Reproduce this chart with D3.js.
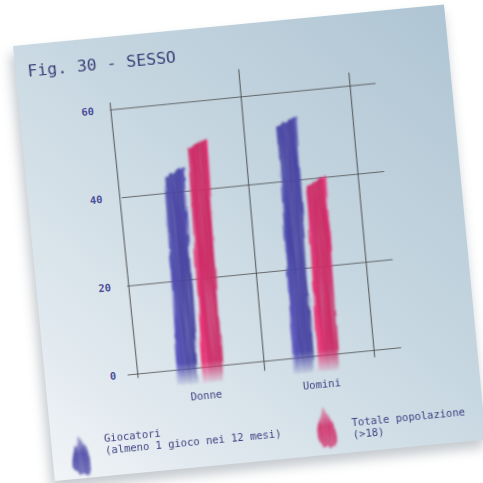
<!DOCTYPE html>
<html lang="it">
<head>
<meta charset="UTF-8">
<title>Fig. 30 - SESSO</title>
<script src="https://d3js.org/d3.v7.min.js"></script>
<style>
  body { margin: 0; background: #fff; }
  svg { display: block; }
  .mono { font-family: "DejaVu Sans Mono", "Liberation Mono", monospace; }
</style>
</head>
<body>
<script>
// data
const categories = ["Donne", "Uomini"];
const seriesKeys = ["giocatori", "popolazione"];
const giocatori = [45.5, 54.5];
const popolazione = [51.5, 40.5];
const yTicks = [0, 20, 40, 60];
const legendLines = [
  ["Giocatori", "(almeno 1 gioco nei 12 mesi)"],
  ["Totale popolazione", "(>18)"]
];
const title = "Fig. 30 - SESSO";

const W = 483, H = 483;
const paperW = 433, paperH = 437;
const colors = { giocatori: "#4a46a5", popolazione: "#d02b67" };
const textColor = "#3f4282";

const svg = d3.select("body").append("svg")
  .attr("width", W).attr("height", H);

const defs = svg.append("defs");

// paper gradient, darker at the top right corner
const pg = defs.append("linearGradient").attr("id", "paperGrad")
  .attr("x1", 1).attr("y1", 0).attr("x2", 0).attr("y2", 1);
pg.append("stop").attr("offset", 0).attr("stop-color", "#afc5d3");
pg.append("stop").attr("offset", 0.45).attr("stop-color", "#c7d7e1");
pg.append("stop").attr("offset", 0.8).attr("stop-color", "#dfe8ee");
pg.append("stop").attr("offset", 1).attr("stop-color", "#f1f4f7");

defs.append("filter").attr("id", "shadow")
  .attr("x", "-10%").attr("y", "-10%").attr("width", "120%").attr("height", "120%")
  .append("feGaussianBlur").attr("stdDeviation", 6);

// brush stroke look
const brush = defs.append("filter").attr("id", "brush")
  .attr("x", "-60%").attr("y", "-10%").attr("width", "220%").attr("height", "120%");
brush.append("feTurbulence").attr("type", "fractalNoise")
  .attr("baseFrequency", "0.3 0.02").attr("numOctaves", 3).attr("seed", 7).attr("result", "noise");
brush.append("feDisplacementMap").attr("in", "SourceGraphic").attr("in2", "noise")
  .attr("scale", 5).attr("xChannelSelector", "R").attr("yChannelSelector", "G").attr("result", "disp");
brush.append("feTurbulence").attr("type", "fractalNoise")
  .attr("baseFrequency", "0.6 0.012").attr("numOctaves", 2).attr("seed", 3).attr("result", "streak");
brush.append("feColorMatrix").attr("in", "streak").attr("type", "matrix")
  .attr("values", "0 0 0 0 0  0 0 0 0 0  0 0 0 0 0  0.7 0 0 0 0.6").attr("result", "streakA");
brush.append("feComposite").attr("in", "disp").attr("in2", "streakA").attr("operator", "in").attr("result", "tex");
brush.append("feGaussianBlur").attr("in", "tex").attr("stdDeviation", 1);

defs.append("filter").attr("id", "soft")
  .append("feGaussianBlur").attr("stdDeviation", 0.35);

// horizontal shading inside each bar
seriesKeys.forEach(k => {
  const c = d3.color(colors[k]);
  const g = defs.append("linearGradient").attr("id", "bar-" + k);
  g.append("stop").attr("offset", 0).attr("stop-color", c.brighter(0.5));
  g.append("stop").attr("offset", 0.3).attr("stop-color", c);
  g.append("stop").attr("offset", 0.8).attr("stop-color", c.darker(0.1));
  g.append("stop").attr("offset", 1).attr("stop-color", c.brighter(0.4));
  const lg = defs.append("linearGradient").attr("id", "leg-" + k)
    .attr("x1", 0).attr("y1", 0).attr("x2", 0).attr("y2", 1);
  lg.append("stop").attr("offset", 0).attr("stop-color", c).attr("stop-opacity", 0.3);
  lg.append("stop").attr("offset", 0.45).attr("stop-color", c).attr("stop-opacity", 0.95);
  lg.append("stop").attr("offset", 1).attr("stop-color", c).attr("stop-opacity", 0.75);
});

// scales (in paper coordinates)
const y = d3.scaleLinear().domain([0, 60]).range([338, 72.5]);
const x = d3.scaleBand().domain(categories).range([101, 333]);
const xs = d3.scaleBand().domain(seriesKeys).range([0, x.bandwidth()])
  .paddingInner(0.2).paddingOuter(1.4);

// bottom fade of the strokes
const fade = defs.append("linearGradient").attr("id", "fadeGrad")
  .attr("gradientUnits", "userSpaceOnUse")
  .attr("x1", 0).attr("y1", y(0) - 6).attr("x2", 0).attr("y2", y(0) + 18);
fade.append("stop").attr("offset", 0).attr("stop-color", "#fff");
fade.append("stop").attr("offset", 1).attr("stop-color", "#000");
defs.append("mask").attr("id", "fadeMask")
  .attr("maskUnits", "userSpaceOnUse")
  .attr("x", 0).attr("y", 0).attr("width", paperW).attr("height", paperH)
  .append("rect").attr("width", paperW).attr("height", paperH).attr("fill", "url(#fadeGrad)");

// the tilted sheet of paper
const paper = svg.append("g").attr("transform", "translate(13,46) rotate(-5.5)");

paper.append("rect")
  .attr("x", -4).attr("y", 8).attr("width", paperW + 2).attr("height", paperH)
  .attr("fill", "#7f8a94").attr("opacity", 0.45).attr("filter", "url(#shadow)");
paper.append("rect")
  .attr("width", paperW).attr("height", paperH).attr("fill", "url(#paperGrad)");

paper.append("text").attr("class", "mono")
  .attr("x", 12).attr("y", 32)
  .attr("font-size", 16.5).attr("fill", "#3b3f78")
  .attr("filter", "url(#soft)")
  .text(title);

// pencil grid
const grid = paper.append("g")
  .attr("stroke", "#444").attr("stroke-opacity", 0.75)
  .attr("stroke-width", 1.2).attr("stroke-linecap", "round")
  .attr("fill", "none").attr("filter", "url(#soft)");

grid.selectAll("line.h").data(yTicks).join("line")
  .attr("class", "h")
  .attr("x1", d => d === 0 ? 83 : 91 + (d % 40 === 0 ? 3 : 0))
  .attr("x2", 357)
  .attr("y1", d => y(d) + 0.5).attr("y2", d => y(d) - 0.5);

const vLines = [
  { x: x.range()[0] - 9, top: 66, bottom: 342, tilt: 1.5 },
  { x: x("Uomini") + 4, top: 45, bottom: 347, tilt: -3 },
  { x: x.range()[1] - 2, top: 59, bottom: 344, tilt: -1.5 }
];
grid.selectAll("line.v").data(vLines).join("line")
  .attr("class", "v")
  .attr("x1", d => d.x - d.tilt / 2).attr("x2", d => d.x + d.tilt / 2)
  .attr("y1", d => d.top).attr("y2", d => d.bottom);

// y tick labels
const yAxis = paper.append("g")
  .attr("transform", "translate(92,0)")
  .call(d3.axisLeft(y).tickValues(yTicks).tickSize(0).tickFormat(d3.format("d")));
yAxis.select(".domain").remove();
yAxis.selectAll("text")
  .attr("class", "mono").attr("x", -24)
  .attr("text-anchor", "middle")
  .attr("font-size", 10.5).attr("font-weight", "bold")
  .attr("fill", "#4d519a");

// category labels
const xAxis = paper.append("g")
  .attr("transform", `translate(0,${y(0)})`)
  .call(d3.axisBottom(x).tickSize(0).tickPadding(25));
xAxis.select(".domain").remove();
xAxis.selectAll("text")
  .attr("class", "mono").attr("font-size", 10.5).attr("fill", textColor)
  .attr("filter", "url(#soft)");

// brush-stroke bars
const rows = [];
categories.forEach((c, i) => {
  rows.push({ cat: c, key: "giocatori", value: giocatori[i] });
  rows.push({ cat: c, key: "popolazione", value: popolazione[i] });
});

const lean = -0.028;          // strokes lean a little more than the sheet
const yRef = y(30);
const slant = 9;              // left corner of the stroke start sits lower
const overshoot = 16;         // brush runs past the baseline

function barPath(d) {
  const cx = x(d.cat) + xs(d.key) + xs.bandwidth() / 2;
  const w = xs.bandwidth();
  const yt = y(d.value), yb = y(0) + overshoot;
  const px = (xx, yy) => [xx + lean * (yy - yRef), yy];
  const pts = [
    px(cx + w / 2, yt),
    px(cx + w / 2, yb),
    px(cx - w / 2, yb),
    px(cx - w / 2, yt + slant),
    px(cx - w / 2 + 6, yt + slant - 3)
  ];
  return d3.line()(pts) + "Z";
}

const bars = paper.append("g").attr("mask", "url(#fadeMask)");
bars.selectAll("path").data(rows).join("path")
  .attr("d", barPath)
  .attr("fill", d => `url(#bar-${d.key})`)
  .attr("filter", "url(#brush)");

// legend
const legendPos = [
  { sx: 30, sy: 414, tx: 53, ty: 403 },
  { sx: 276, sy: 410, tx: 301, ty: 411 }
];
function blob(cx, cy) {
  return `M${cx - 3},${cy - 20} C${cx + 3},${cy - 12} ${cx + 10},${cy + 2} ${cx + 9},${cy + 14}
    L${cx + 6},${cy + 20} L${cx - 5},${cy + 19} L${cx - 10},${cy + 11}
    C${cx - 10},${cy} ${cx - 6},${cy - 10} ${cx - 3},${cy - 20} Z`;
}
const legend = paper.append("g");
seriesKeys.forEach((k, i) => {
  const p = legendPos[i];
  legend.append("path")
    .attr("d", blob(p.sx, p.sy))
    .attr("fill", `url(#leg-${k})`)
    .attr("filter", "url(#brush)");
  const t = legend.append("text").attr("class", "mono")
    .attr("font-size", 10.5).attr("fill", textColor)
    .attr("filter", "url(#soft)")
    .attr("x", p.tx).attr("y", p.ty);
  legendLines[i].forEach((line, j) => {
    t.append("tspan").attr("x", p.tx).attr("dy", j === 0 ? 0 : 12).text(line);
  });
});
</script>
</body>
</html>
